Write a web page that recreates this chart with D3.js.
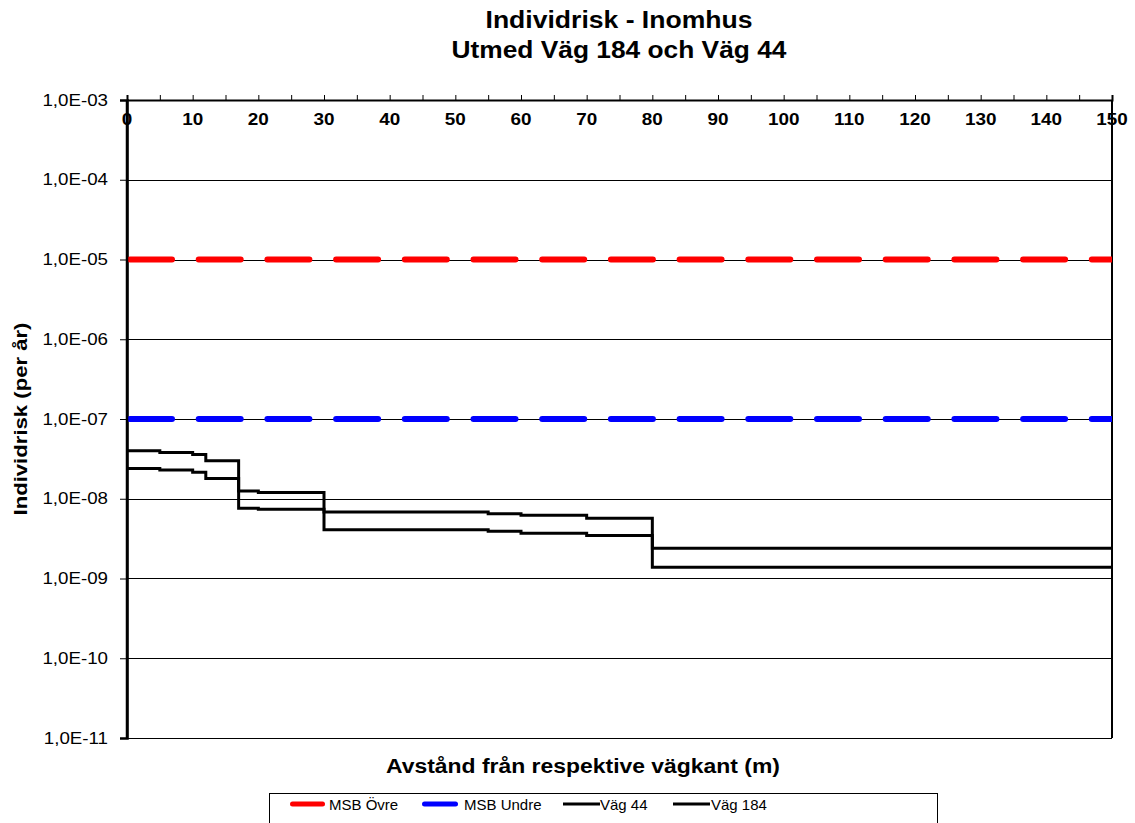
<html>
<head>
	<script src="https://d3js.org/d3.v7.min.js"></script>
	<style>
		body { margin: 0; background: #fff; }
		text { font-family: "Liberation Sans", Arial, sans-serif; fill: #000; }
	</style>
</head>
<body>
	<script>
		// distance from road edge (m), step starts
		var distances = [0, 5, 10, 12, 17, 20, 30, 55, 60, 70, 80, 150];
		var vag44  = [4.0e-8, 3.8e-8, 3.6e-8, 3.0e-8, 1.25e-8, 1.2e-8, 6.8e-9, 6.5e-9, 6.2e-9, 5.7e-9, 2.4e-9, 2.4e-9];
		var vag184 = [2.4e-8, 2.3e-8, 2.15e-8, 1.8e-8, 7.6e-9, 7.4e-9, 4.1e-9, 3.9e-9, 3.7e-9, 3.45e-9, 1.38e-9, 1.38e-9];
		var msbOvre = 1e-5;
		var msbUndre = 1e-7;
		var yTicks = [1e-3, 1e-4, 1e-5, 1e-6, 1e-7, 1e-8, 1e-9, 1e-10, 1e-11];
		var xTicks = d3.range(0, 151, 10);
		var xMinor = d3.range(0, 151, 5);
		var seriesNames = ["MSB Övre", "MSB Undre", "Väg 44", "Väg 184"];

		var outerWidth = 1135, outerHeight = 823;
		var margin = { left: 127, top: 100, right: 23, bottom: 85 };
		var innerWidth = outerWidth - margin.left - margin.right;
		var innerHeight = outerHeight - margin.top - margin.bottom;

		var svg = d3.select("body").append("svg")
			.attr("width", outerWidth)
			.attr("height", outerHeight);

		svg.append("defs").append("clipPath").attr("id", "plotclip")
			.append("rect").attr("width", innerWidth).attr("height", innerHeight);

		var g = svg.append("g")
			.attr("transform", "translate(" + margin.left + "," + margin.top + ")");

		var xScale = d3.scaleLinear().domain([0, 150]).range([0, innerWidth]);
		var yScale = d3.scaleLog().domain([1e-11, 1e-3]).range([innerHeight, 0]);

		function stretch(sel, k) {
			sel.each(function() {
				var l = this.getComputedTextLength();
				d3.select(this).attr("textLength", l * k).attr("lengthAdjust", "spacingAndGlyphs");
			});
		}

		function fmt(v) {
			var e = Math.round(Math.log10(v));
			var s = Math.abs(e) < 10 ? "0" + Math.abs(e) : "" + Math.abs(e);
			return "1,0E-" + s;
		}

		// gridlines
		g.append("g").selectAll("line").data(yTicks)
			.enter().append("line")
			.attr("x1", 0).attr("x2", innerWidth)
			.attr("y1", function(d) { return Math.round(yScale(d)) + 0.5; })
			.attr("y2", function(d) { return Math.round(yScale(d)) + 0.5; })
			.attr("stroke", "#000").attr("stroke-width", 1);

		// right border
		g.append("line")
			.attr("x1", innerWidth).attr("x2", innerWidth)
			.attr("y1", 0).attr("y2", innerHeight)
			.attr("stroke", "#000").attr("stroke-width", 2);

		// y axis
		var yAxis = d3.axisLeft(yScale).tickValues(yTicks).tickFormat(fmt).tickSize(7).tickPadding(12);
		var yAxisG = g.append("g").call(yAxis);
		yAxisG.select(".domain").attr("stroke-width", 2.5);
		yAxisG.selectAll(".tick line").attr("stroke-width", 1);
		yAxisG.selectAll(".tick text")
			.style("font-family", "Liberation Sans, Arial, sans-serif")
			.style("font-size", "16px")
			.call(stretch, 1.17);

		// limit lines
		var limits = [
			{ v: msbOvre, color: "#ff0000" },
			{ v: msbUndre, color: "#0000ff" }
		];
		g.append("g").attr("clip-path", "url(#plotclip)")
			.selectAll("line").data(limits)
			.enter().append("line")
			.attr("x1", 0).attr("x2", innerWidth + 10)
			.attr("y1", function(d) { return yScale(d.v); })
			.attr("y2", function(d) { return yScale(d.v); })
			.attr("stroke", function(d) { return d.color; })
			.attr("stroke-width", 6)
			.attr("stroke-linecap", "round")
			.attr("stroke-dasharray", "42,26.7")
			.attr("stroke-dashoffset", -3);

		// step lines
		var line = d3.line()
			.x(function(d) { return xScale(d[0]); })
			.y(function(d) { return yScale(d[1]); })
			.curve(d3.curveStepAfter);

		[vag44, vag184].forEach(function(s) {
			g.append("path")
				.datum(distances.map(function(d, i) { return [d, s[i]]; }))
				.attr("d", line)
				.attr("fill", "none")
				.attr("stroke", "#000")
				.attr("stroke-width", 3);
		});

		// top x axis
		var xAxisG = g.append("g").call(d3.axisTop(xScale).tickValues(xMinor).tickSize(5).tickFormat(""));
		xAxisG.select(".domain").attr("stroke-width", 2);
		xAxisG.selectAll(".tick line").attr("stroke-width", 1);
		g.append("g").selectAll("text").data(xTicks)
			.enter().append("text")
			.attr("x", function(d) { return xScale(d); })
			.attr("y", 25)
			.attr("text-anchor", "middle")
			.style("font-size", "16px")
			.style("font-weight", "bold")
			.text(function(d) { return d; })
			.call(stretch, 1.18);

		// left axis line on top of labels
		g.append("line")
			.attr("x1", 0).attr("x2", 0).attr("y1", 0).attr("y2", innerHeight)
			.attr("stroke", "#000").attr("stroke-width", 2.5);

		// titles
		svg.append("text").attr("x", 619).attr("y", 28).attr("text-anchor", "middle")
			.style("font-size", "23px").style("font-weight", "bold")
			.attr("textLength", 267).attr("lengthAdjust", "spacingAndGlyphs")
			.text("Individrisk - Inomhus");
		svg.append("text").attr("x", 619).attr("y", 58).attr("text-anchor", "middle")
			.style("font-size", "23px").style("font-weight", "bold")
			.attr("textLength", 335).attr("lengthAdjust", "spacingAndGlyphs")
			.text("Utmed Väg 184 och Väg 44");

		svg.append("text").attr("x", 583).attr("y", 773).attr("text-anchor", "middle")
			.style("font-size", "20px").style("font-weight", "bold")
			.attr("textLength", 394).attr("lengthAdjust", "spacingAndGlyphs")
			.text("Avstånd från respektive vägkant (m)");

		svg.append("text")
			.attr("transform", "translate(27," + (margin.top + innerHeight / 2) + ") rotate(-90)")
			.attr("text-anchor", "middle")
			.style("font-size", "19px").style("font-weight", "bold")
			.attr("textLength", 193).attr("lengthAdjust", "spacingAndGlyphs")
			.text("Individrisk (per år)");

		// legend
		var legend = svg.append("g");
		legend.append("rect")
			.attr("x", 269.5).attr("y", 793.5).attr("width", 668).attr("height", 40)
			.attr("fill", "#fff").attr("stroke", "#000").attr("stroke-width", 1);
		var legendItems = [
			{ name: seriesNames[0], color: "#ff0000", w: 5, x1: 290, x2: 325, tx: 329 },
			{ name: seriesNames[1], color: "#0000ff", w: 5, x1: 422, x2: 458, tx: 464 },
			{ name: seriesNames[2], color: "#000", w: 3, x1: 563, x2: 600, tx: 600 },
			{ name: seriesNames[3], color: "#000", w: 3, x1: 673, x2: 710, tx: 711 }
		];
		var li = legend.selectAll(".item").data(legendItems).enter().append("g");
		li.append("line")
			.attr("x1", function(d) { return d.x1 + (d.w > 3 ? 2.5 : 0); })
			.attr("x2", function(d) { return d.x2 - (d.w > 3 ? 2.5 : 0); })
			.attr("y1", 804).attr("y2", 804)
			.attr("stroke", function(d) { return d.color; })
			.attr("stroke-width", function(d) { return d.w; })
			.attr("stroke-linecap", function(d) { return d.w > 3 ? "round" : "butt"; });
		li.append("text")
			.attr("x", function(d) { return d.tx; })
			.attr("y", 810)
			.style("font-size", "15px")
			.text(function(d) { return d.name; });
	</script>
</body>
</html>
